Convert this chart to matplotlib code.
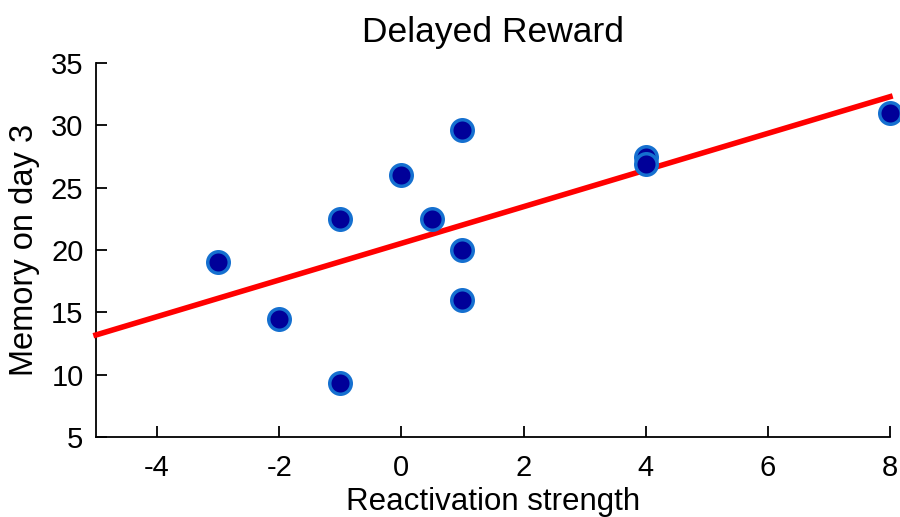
import numpy as np
import matplotlib
matplotlib.use("Agg")
import matplotlib.pyplot as plt

plt.rcParams['font.family'] = ['Liberation Sans', 'DejaVu Sans']
plt.rcParams['axes.unicode_minus'] = False

reactivation = [-3, -2, -1, -1, 0, 0.5, 1, 1, 1, 4, 4, 8]
memory = [19, 14.5, 22.5, 9.3, 26, 22.5, 29.6, 20, 16, 27.5, 26.9, 31]
xticks = [-4, -2, 0, 2, 4, 6, 8]
yticks = [5, 10, 15, 20, 25, 30, 35]

fig = plt.figure(figsize=(9, 5.17), dpi=100)
ax = fig.add_axes([96/900, 80/517, (890-96)/900, (437-63)/517])

slope, intercept = np.polyfit(reactivation, memory, 1)
xl = np.array([-5, 8])
ax.plot(xl, slope*xl + intercept, color='#ff0000', lw=4, zorder=3, clip_on=False)

ax.scatter(reactivation, memory, s=240, facecolor='#000099', edgecolor='#1570d0',
           linewidths=2.5, zorder=4, clip_on=False)

ax.set_xlim(-5, 8)
ax.set_ylim(5, 35)
ax.set_xticks(xticks)
ax.set_yticks(yticks)
ax.tick_params(direction='in', length=8, width=1.3, labelsize=21)
ax.tick_params(axis='x', pad=12)
ax.tick_params(axis='y', pad=9)
for s in ['top', 'right']:
    ax.spines[s].set_visible(False)
for s in ['left', 'bottom']:
    ax.spines[s].set_linewidth(1.3)

ax.set_xlabel('Reactivation strength', fontsize=22.5, labelpad=4)
ax.set_ylabel('Memory on day 3', fontsize=23.5, labelpad=8)
ax.set_title('Delayed Reward', fontsize=25.5, pad=15)

fig.savefig('out.png', dpi=100)
